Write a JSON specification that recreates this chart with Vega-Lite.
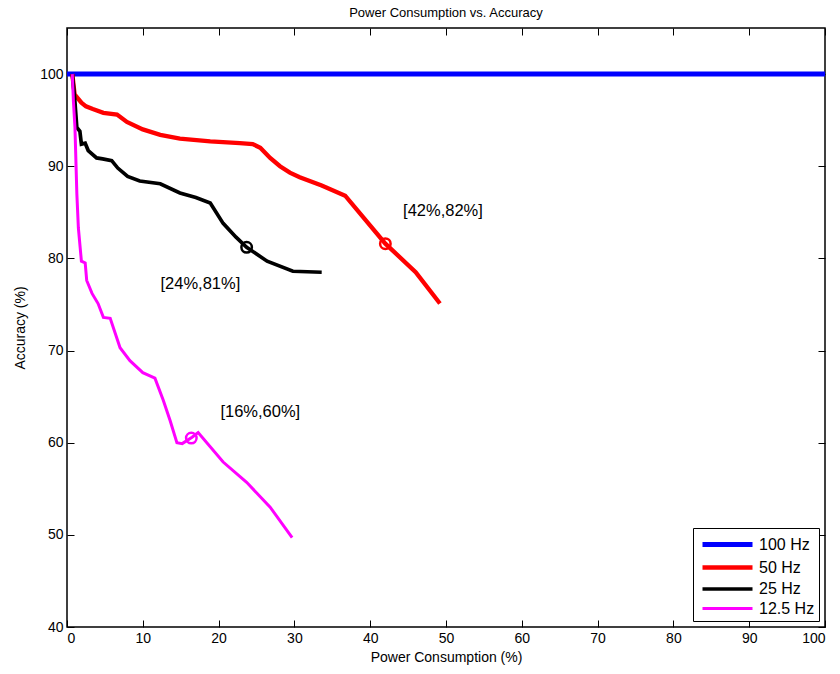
{
  "$schema": "https://vega.github.io/schema/vega-lite/v6.json",
  "autosize": "none",
  "width": 758,
  "height": 599,
  "padding": {"left": 67, "top": 28, "right": 15, "bottom": 47},
  "background": "white",
  "config": {
    "font": "Liberation Sans",
    "view": {"stroke": "black", "strokeWidth": 1.5},
    "axis": {"grid": false, "domain": false, "offset": -7, "tickSize": 7, "tickWidth": 1, "tickColor": "black", "labelColor": "black", "titleColor": "black", "labelFontSize": 14, "titleFontSize": 14, "titleFontWeight": "normal", "labelPadding": 4}
  },
  "title": {"text": "Power Consumption vs. Accuracy", "fontSize": 13, "fontWeight": "normal", "color": "black", "offset": 8},
  "datasets": {
    "lines": [
      {"s": "100 Hz", "x": 0, "y": 100},
      {"s": "100 Hz", "x": 100, "y": 100},
      {"s": "50 Hz", "x": 0.7, "y": 100},
      {"s": "50 Hz", "x": 1.0, "y": 97.8},
      {"s": "50 Hz", "x": 1.9, "y": 96.9},
      {"s": "50 Hz", "x": 2.5, "y": 96.5},
      {"s": "50 Hz", "x": 3.4, "y": 96.2},
      {"s": "50 Hz", "x": 4.8, "y": 95.8},
      {"s": "50 Hz", "x": 6.6, "y": 95.6},
      {"s": "50 Hz", "x": 7.9, "y": 94.8},
      {"s": "50 Hz", "x": 10, "y": 94.0},
      {"s": "50 Hz", "x": 12.3, "y": 93.4},
      {"s": "50 Hz", "x": 14.9, "y": 93.0},
      {"s": "50 Hz", "x": 18.9, "y": 92.7},
      {"s": "50 Hz", "x": 22.8, "y": 92.5},
      {"s": "50 Hz", "x": 24.5, "y": 92.4},
      {"s": "50 Hz", "x": 25.5, "y": 92.0},
      {"s": "50 Hz", "x": 26.8, "y": 90.9},
      {"s": "50 Hz", "x": 28.1, "y": 90.0},
      {"s": "50 Hz", "x": 29.4, "y": 89.3},
      {"s": "50 Hz", "x": 30.7, "y": 88.8},
      {"s": "50 Hz", "x": 33.6, "y": 87.9},
      {"s": "50 Hz", "x": 36.7, "y": 86.8},
      {"s": "50 Hz", "x": 42, "y": 81.6},
      {"s": "50 Hz", "x": 46, "y": 78.5},
      {"s": "50 Hz", "x": 49.2, "y": 75.1},
      {"s": "25 Hz", "x": 0.7, "y": 100},
      {"s": "25 Hz", "x": 1.0, "y": 97.5},
      {"s": "25 Hz", "x": 1.3, "y": 94.2},
      {"s": "25 Hz", "x": 1.7, "y": 93.8},
      {"s": "25 Hz", "x": 1.9, "y": 92.4},
      {"s": "25 Hz", "x": 2.4, "y": 92.5},
      {"s": "25 Hz", "x": 2.8, "y": 91.7},
      {"s": "25 Hz", "x": 3.9, "y": 90.9},
      {"s": "25 Hz", "x": 4.7, "y": 90.8},
      {"s": "25 Hz", "x": 5.9, "y": 90.6},
      {"s": "25 Hz", "x": 6.7, "y": 89.8},
      {"s": "25 Hz", "x": 8, "y": 88.9},
      {"s": "25 Hz", "x": 9.6, "y": 88.4},
      {"s": "25 Hz", "x": 12.3, "y": 88.1},
      {"s": "25 Hz", "x": 14.9, "y": 87.1},
      {"s": "25 Hz", "x": 17, "y": 86.6},
      {"s": "25 Hz", "x": 18.9, "y": 86.0},
      {"s": "25 Hz", "x": 20.6, "y": 83.8},
      {"s": "25 Hz", "x": 22.3, "y": 82.3},
      {"s": "25 Hz", "x": 23.7, "y": 81.2},
      {"s": "25 Hz", "x": 26.4, "y": 79.7},
      {"s": "25 Hz", "x": 29.8, "y": 78.6},
      {"s": "25 Hz", "x": 33.6, "y": 78.5},
      {"s": "12.5 Hz", "x": 0.7, "y": 100},
      {"s": "12.5 Hz", "x": 0.85, "y": 97},
      {"s": "12.5 Hz", "x": 1.05, "y": 94.2},
      {"s": "12.5 Hz", "x": 1.3, "y": 87},
      {"s": "12.5 Hz", "x": 1.5, "y": 83.3},
      {"s": "12.5 Hz", "x": 1.9, "y": 79.7},
      {"s": "12.5 Hz", "x": 2.4, "y": 79.5},
      {"s": "12.5 Hz", "x": 2.6, "y": 77.6},
      {"s": "12.5 Hz", "x": 3.3, "y": 76.2},
      {"s": "12.5 Hz", "x": 4.1, "y": 75.1},
      {"s": "12.5 Hz", "x": 4.8, "y": 73.6},
      {"s": "12.5 Hz", "x": 5.7, "y": 73.5},
      {"s": "12.5 Hz", "x": 7, "y": 70.3},
      {"s": "12.5 Hz", "x": 8.3, "y": 68.9},
      {"s": "12.5 Hz", "x": 10, "y": 67.6},
      {"s": "12.5 Hz", "x": 11.6, "y": 67.0},
      {"s": "12.5 Hz", "x": 12.7, "y": 64.6},
      {"s": "12.5 Hz", "x": 13.6, "y": 62.4},
      {"s": "12.5 Hz", "x": 14.5, "y": 60.0},
      {"s": "12.5 Hz", "x": 15.2, "y": 59.9},
      {"s": "12.5 Hz", "x": 16.5, "y": 60.6},
      {"s": "12.5 Hz", "x": 17.3, "y": 61.1},
      {"s": "12.5 Hz", "x": 20.6, "y": 57.9},
      {"s": "12.5 Hz", "x": 23.7, "y": 55.7},
      {"s": "12.5 Hz", "x": 26.8, "y": 53.0},
      {"s": "12.5 Hz", "x": 29.7, "y": 49.7}
    ],
    "marks": [
      {"s": "50 Hz", "x": 42, "y": 81.6},
      {"s": "25 Hz", "x": 23.7, "y": 81.2},
      {"s": "12.5 Hz", "x": 16.4, "y": 60.5}
    ],
    "labels": [
      {"t": "[42%,82%]", "x": 49.6, "y": 85.1},
      {"t": "[24%,81%]", "x": 17.6, "y": 77.2},
      {"t": "[16%,60%]", "x": 25.5, "y": 63.3}
    ]
  },
  "layer": [
    {
      "data": {"name": "lines"},
      "mark": {"type": "line", "clip": true},
      "encoding": {
        "x": {"field": "x", "type": "quantitative", "scale": {"domain": [0, 100], "nice": false}, "axis": {"title": "Power Consumption (%)", "values": [0,10,20,30,40,50,60,70,80,90,100], "titlePadding": 5}},
        "y": {"field": "y", "type": "quantitative", "scale": {"domain": [40, 105], "nice": false, "zero": false}, "axis": {"title": "Accuracy (%)", "values": [40,50,60,70,80,90,100], "titlePadding": 12}},
        "color": {"field": "s", "type": "nominal", "scale": {"domain": ["100 Hz", "50 Hz", "25 Hz", "12.5 Hz"], "range": ["#0000ff", "#ff0000", "#000000", "#ff00ff"]},
          "legend": {"title": null, "orient": "bottom-right", "offset": 6, "symbolType": "M-0.7,0H4.3", "symbolSize": 400, "symbolOpacity": 1, "labelFontSize": 16, "labelColor": "black", "strokeColor": "black", "fillColor": "white", "padding": 4, "rowPadding": -1, "labelOffset": 37}},
        "strokeWidth": {"field": "s", "type": "nominal", "scale": {"domain": ["100 Hz", "50 Hz", "25 Hz", "12.5 Hz"], "range": [5, 3, 3, 3]},
          "legend": {"title": null, "orient": "bottom-right", "offset": 6, "symbolType": "M-0.7,0H4.3", "symbolSize": 400, "symbolOpacity": 1, "labelFontSize": 16, "labelColor": "black", "strokeColor": "black", "fillColor": "white", "padding": 4, "rowPadding": -1, "labelOffset": 37}}
      }
    },
    {
      "data": {"name": "marks"},
      "mark": {"type": "point", "shape": "circle", "filled": false, "size": 110, "strokeWidth": 2.5, "opacity": 1},
      "encoding": {
        "x": {"field": "x", "type": "quantitative", "axis": null},
        "y": {"field": "y", "type": "quantitative", "axis": null},
        "color": {"field": "s", "type": "nominal"}
      }
    },
    {
      "data": {"name": "labels"},
      "mark": {"type": "text", "fontSize": 16.5, "color": "black", "align": "center", "baseline": "middle"},
      "encoding": {
        "x": {"field": "x", "type": "quantitative", "axis": null},
        "y": {"field": "y", "type": "quantitative", "axis": null},
        "text": {"field": "t"}
      }
    },
    {
      "data": {"values": [{"x": 0, "y": 100}]},
      "mark": {"type": "point", "opacity": 0},
      "encoding": {
        "x": {"field": "x", "type": "quantitative", "axis": {"orient": "top", "labels": false, "title": null, "values": [0,10,20,30,40,50,60,70,80,90,100]}},
        "y": {"field": "y", "type": "quantitative", "axis": {"orient": "right", "labels": false, "title": null, "values": [40,50,60,70,80,90,100]}}
      }
    }
  ],
  "resolve": {"axis": {"x": "independent", "y": "independent"}}
}
